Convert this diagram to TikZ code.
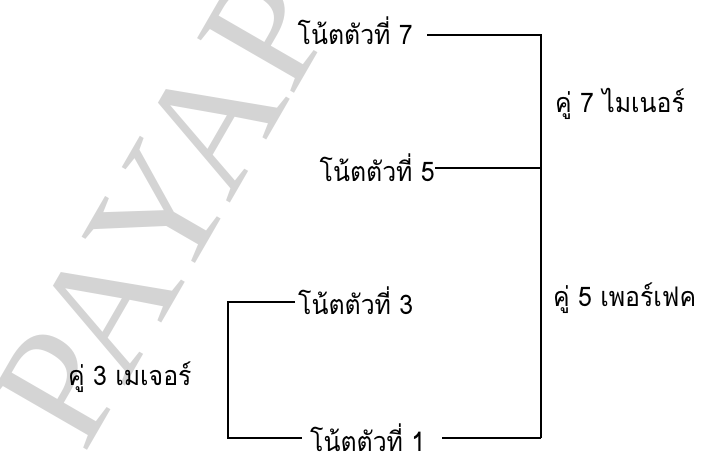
\documentclass[tikz,border=0pt]{standalone}
\usepackage{fontspec}
\newfontfamily\thaifont[Script=Thai,FakeStretch=0.92]{Loma}
\newfontfamily\markfont{Liberation Serif}
\usetikzlibrary{positioning}
\tikzset{
    note/.style={
        font=\thaifont\fontsize{27}{30}\selectfont,
        inner sep=0pt
    },
    link/.style={
        line width=1.5pt
    },
    watermark/.style={
        font=\markfont\fontsize{170}{170}\selectfont,
        text=black!17,
        inner sep=0pt,
        rotate=60
    }
}

\begin{document}
\begin{tikzpicture}[x=1pt, y=-1pt]
    \useasboundingbox (0,0) rectangle (710,457);
    % Watermark
    \node[watermark] (mark) at (163,208) {PAYAP};

    % Notes
    \node[note, anchor=base east] (n7) at (413,45) {โน้ตตัวที่ 7};
    \node[note, anchor=base east] (n5) at (435,182) {โน้ตตัวที่ 5};
    \node[note, anchor=base west] (n3) at (298,315) {โน้ตตัวที่ 3};
    \node[note, anchor=base west] (n1) at (310,451) {โน้ตตัวที่ 1};

    % Intervals
    \node[note, anchor=base west] (i7) at (555,113) {คู่ 7 ไมเนอร์};
    \node[note, anchor=base west] (i5) at (553,307) {คู่ 5 เพอร์เฟค};
    \node[note, anchor=base west] (i3) at (68,385) {คู่ 3 เมเจอร์};

    % Brackets
    \coordinate (rc) at (541,438);
    \coordinate (lc) at (228,302);
    \draw[link] ([shift={(14,-10)}]n7.base east) -| (rc);
    \draw[link] ([shift={(0,-14)}]n5.base east) -| (rc);
    \draw[link] ([shift={(17,-13)}]n1.base east) -- (rc);
    \draw[link] ([shift={(-3,-13)}]n3.base west) -- (lc) |- ([shift={(-8,-13)}]n1.base west);
\end{tikzpicture}
\end{document}
